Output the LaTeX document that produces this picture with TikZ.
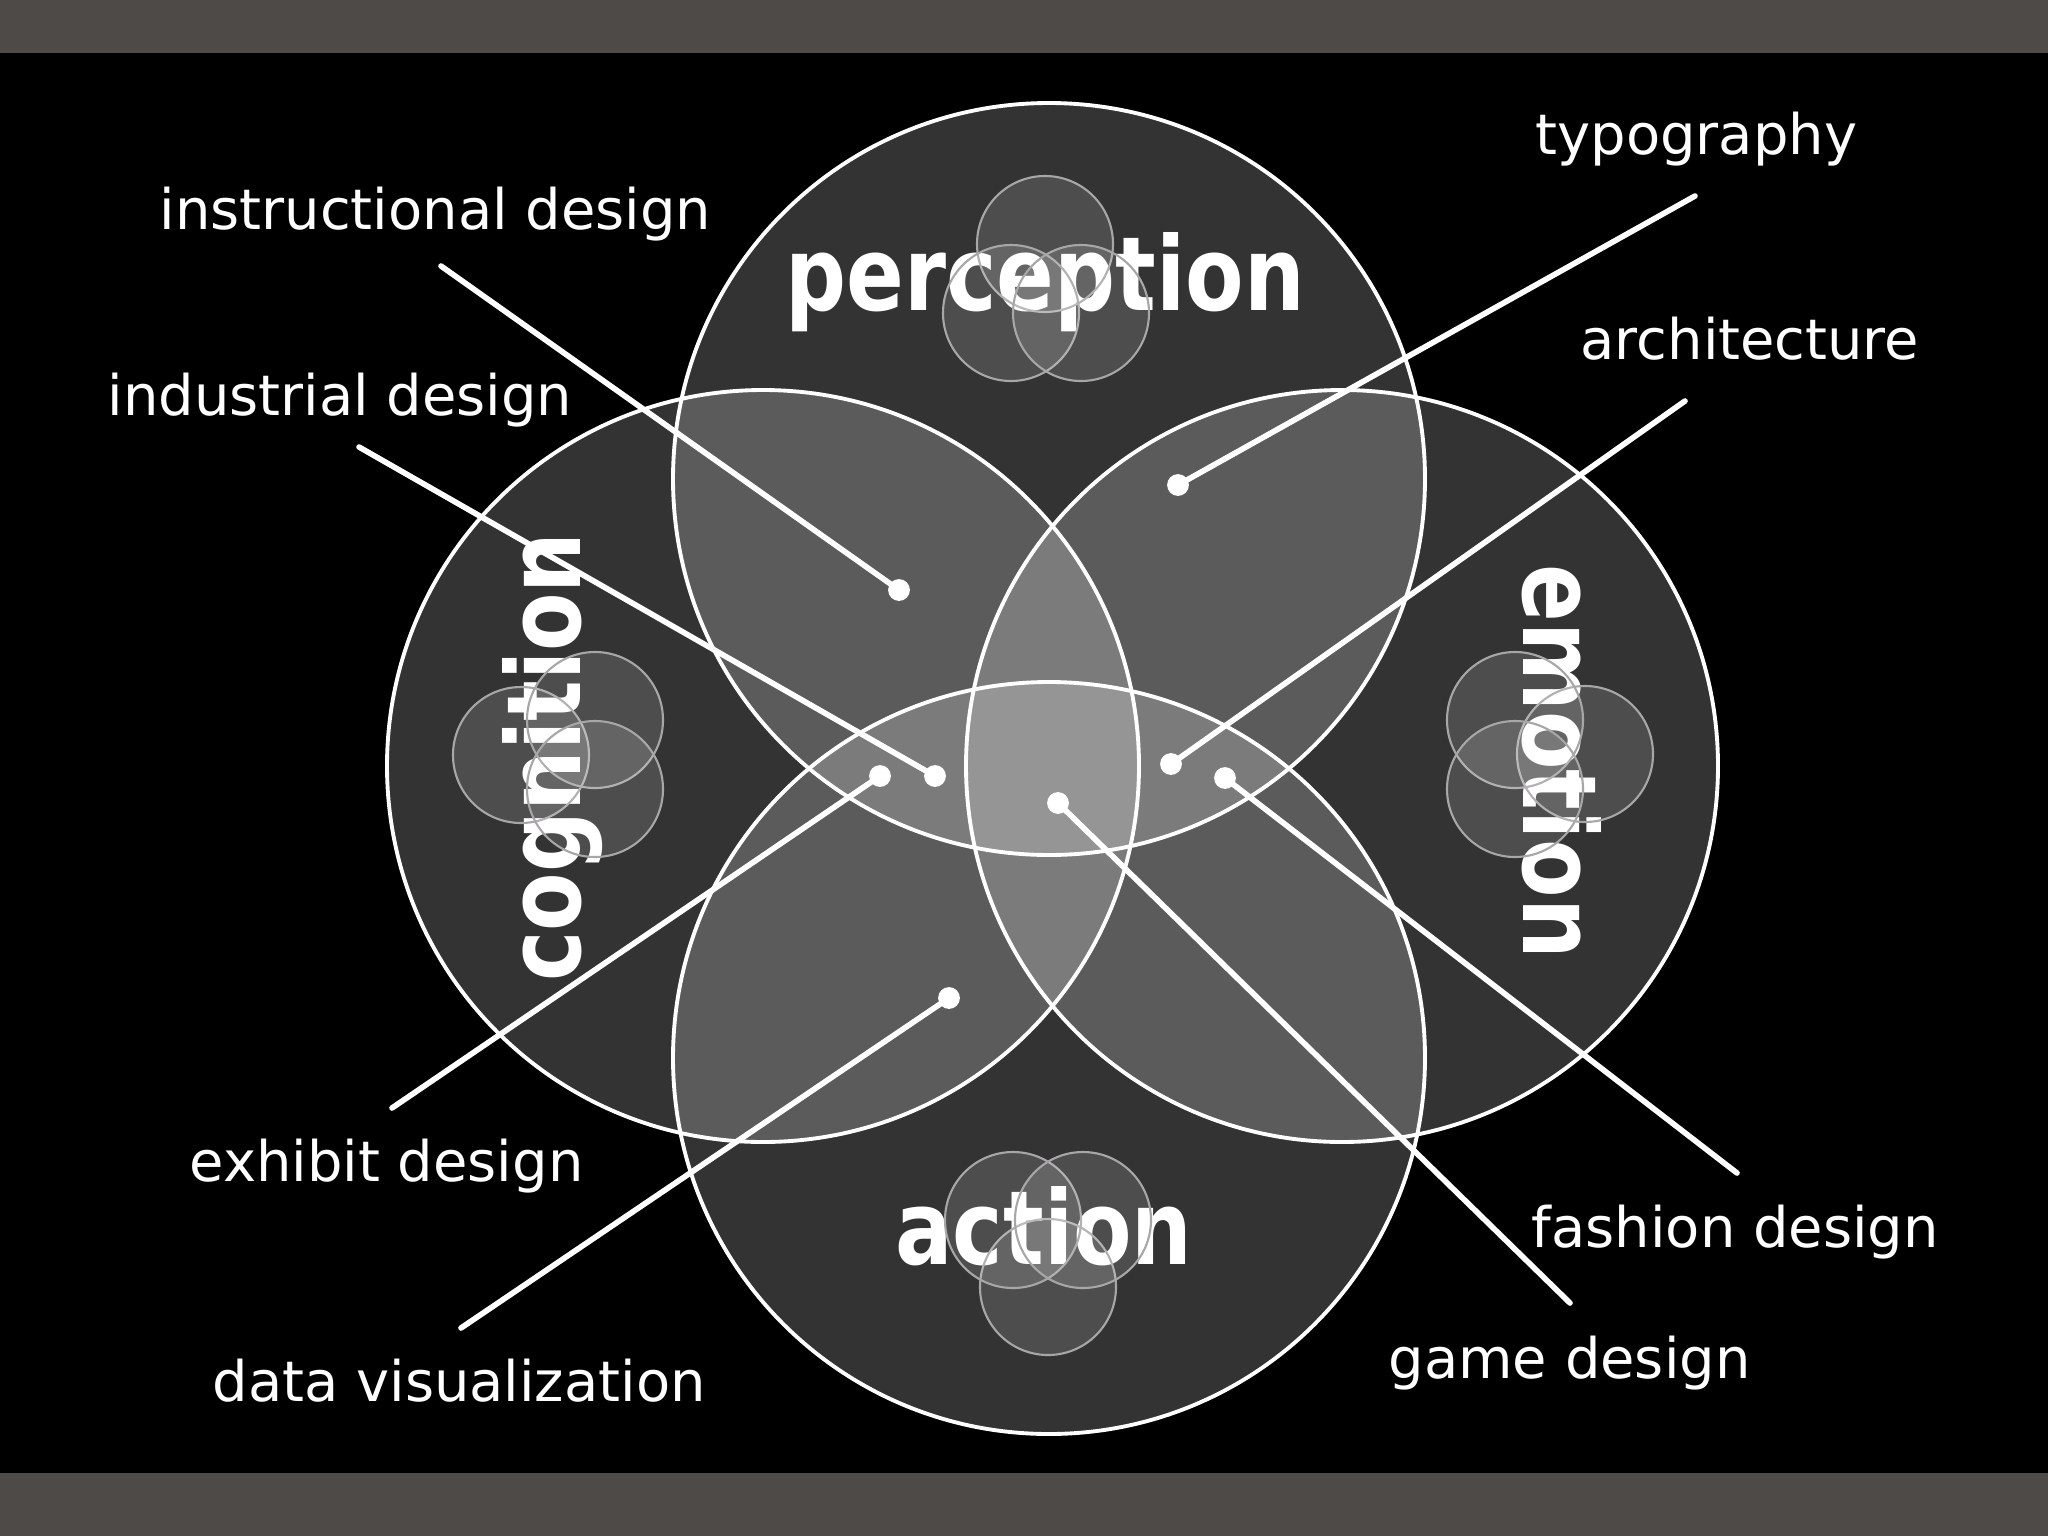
\documentclass[tikz,border=0pt]{standalone}
\usepackage{fontspec}
\setmainfont{DejaVu Sans}
\newfontfamily\bigfont{DejaVu Sans}[FakeStretch=0.83]
\definecolor{barcol}{HTML}{4D4A48}
\definecolor{ringcol}{HTML}{A8A6A8}
\begin{document}
\begin{tikzpicture}[x=0.01cm,y=-0.01cm,line cap=round]
        % Styles
        \tikzstyle{big circle}=[fill=white,fill opacity=0.2]
        \tikzstyle{small circle}=[fill=white,fill opacity=0.13]
        \tikzstyle{outline}=[draw=white,line width=1.1pt]
        \tikzstyle{thin outline}=[draw=ringcol,line width=0.6pt]
        \tikzstyle{leader}=[draw=white,line width=1.6pt]
        \tikzstyle{dot}=[circle,fill=white,inner sep=0pt,minimum size=6.2pt]
        \tikzstyle{field}=[text=white,font=\fontsize{15.9}{19}\selectfont,inner sep=0pt,anchor=base west]
        \tikzstyle{topic}=[text=white,font=\bigfont\bfseries\fontsize{29.2}{36}\selectfont,inner sep=0pt,anchor=base]
        %background
        \fill[black] (0,0) rectangle (2048,1536);
        \fill[barcol] (0,0) rectangle (2048,53);
        \fill[barcol] (0,1473) rectangle (2048,1536);
        %big circles
        \foreach \x/\y in {1049/479,763/766,1342/766,1049/1058}
            \fill[style=big circle] (\x,\y) circle (376);
        \foreach \x/\y in {1049/479,763/766,1342/766,1049/1058}
            \draw[style=outline] (\x,\y) circle (376);
        %topics
        \node[topic] (perception) at (1045,310) {perception};
        \node[topic] (action) at (1044,1264) {action};
        \node[topic,rotate=90] (cognition) at (580,757) {cognition};
        \node[topic,rotate=-90] (emotion) at (1523,762) {emotion};
        %small venns
        \foreach \x/\y in {1045/244,1011/313,1081/313,521/755,595/720,595/789,1585/754,1515/720,1515/789,1048/1287,1013/1220,1083/1220}
        {
            \fill[style=small circle] (\x,\y) circle (68);
            \draw[style=thin outline] (\x,\y) circle (68);
        }
        %dots and leaders
        \foreach \name/\dx/\dy/\ex/\ey in {instr/899/590/441/266,indus/935/776/359/447,typo/1178/485/1695/196,arch/1171/764/1685/401,exhib/880/776/392/1108,data/949/998/461/1328,fash/1225/778/1737/1173,game/1058/803/1570/1303}
        {
            \node[dot] (\name dot) at (\dx,\dy) {};
            \coordinate (\name end) at (\ex,\ey);
            \draw[style=leader] (\name dot.center) -- (\name end);
        }
        %fields
        \foreach \name/\lx/\ly/\lab in {instr/159/229/instructional design,indus/107/415/industrial design,typo/1535/154/typography,arch/1580/359/architecture,exhib/189/1181/exhibit design,data/212/1401/data visualization,fash/1531/1247/fashion design,game/1388/1378/game design}
            \node[field] (\name) at (\lx,\ly) {\lab};
\end{tikzpicture}
\end{document}
